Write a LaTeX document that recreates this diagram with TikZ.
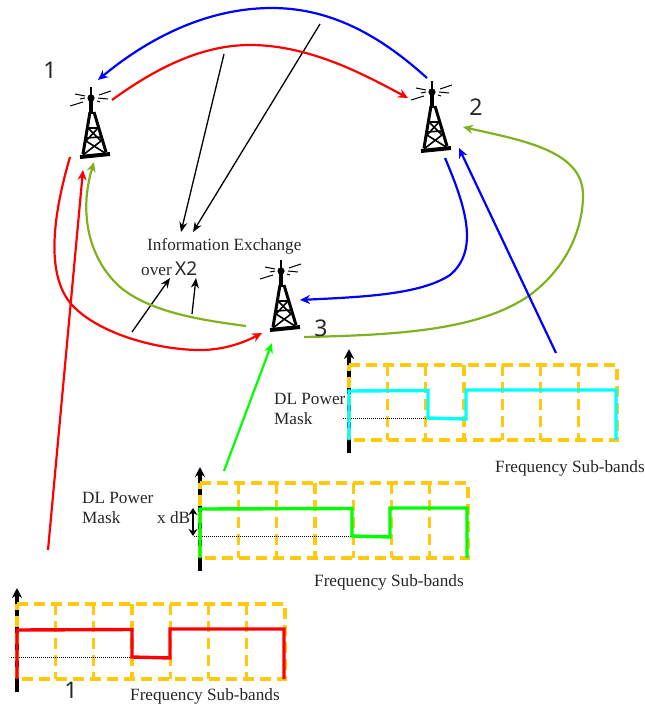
\documentclass[tikz,border=0pt]{standalone}
\usepackage{fontspec}
\setmainfont{Liberation Serif}
\newfontfamily\numfont{Noto Sans}
\usetikzlibrary{arrows.meta}
\definecolor{cred}{HTML}{FF0000}
\definecolor{cblue}{HTML}{0000FF}
\definecolor{colive}{HTML}{7FB21E}
\definecolor{clime}{HTML}{00FF00}
\definecolor{ccyan}{HTML}{00FFFF}
\definecolor{cgold}{HTML}{FFC90E}
\tikzset{
  curvearrow/.style={line width=2.2pt,-{Stealth[length=10pt,width=9pt]}},
  blackarrow/.style={line width=1.3pt,black,-{Stealth[length=10pt,width=8pt]}},
  lbl/.style={inner sep=0pt,anchor=base west,font=\fontsize{17.2}{20}\selectfont,text=black!85},
  numlbl/.style={inner sep=0pt,anchor=base,font=\numfont\fontsize{23}{26}\selectfont,text=black!85},
  goldbox/.style={line width=3.2pt,cgold,dash pattern=on 11pt off 6pt},
  maskline/.style={line width=3.4pt,line join=miter},
  pics/tower/.style={code={
    \draw[line width=1.1pt] (0,-11)--(0,0);
    \fill (0,0) circle (3.6);
    \draw[line width=3.6pt] (0,2)--(0,16);
    \draw[line width=3pt] (-1,14)--(-8,56) (3,14)--(15,54);
    \draw[line width=4pt] (-11,59)--(19,56);
    \draw[line width=1.6pt] (-3,30)--(7,30) (-5,40)--(10,39) (-3,30)--(10,43) (7,30)--(-5,43) (-5,43)--(14,55) (10,43)--(-8,57);
    \draw[line width=1pt] (-16,-4)--(-6,-2) (-21,8)--(-8,4) (-11,1)--(-6,0) (8,-3)--(20,-7) (7,0)--(17,1) (6,3)--(9,4);
  }}
}
\newcommand{\maskpanel}[5]{%
  \begin{scope}[shift={(#1,#2)}]
    \draw[line width=3.6pt,black,-{Stealth[length=10pt,width=10pt]}] (17,692)--(17,588);
    \draw[goldbox] (17,604)--(285,604)--(285,679)--(17,679)--cycle;
    \foreach \k in {1,...,6}{\draw[goldbox] ({17+38.3*\k},604)--({17+38.3*\k},679);}
    \draw[line width=.8pt,black,dash pattern=on 1.2pt off .8pt] (11,657)--(#4,657);
    \draw[maskline,#3] (17,679)--(17,630)--(#4,629.5)--(#4,657)--({#4+38},658)--({#4+38},629)--(284,629)--(284,679);
  \end{scope}}
\begin{document}
\begin{tikzpicture}[x=1pt,y=-1pt]
\useasboundingbox (0,0) rectangle (645,705);
% towers
\pic at (91,98) {tower};
\pic at (432,92) {tower};
\pic at (281,271) {tower};
% connector ends
\coordinate (t1blueIn) at (98,80);
\coordinate (t2blueOut) at (427,78);
\coordinate (topBlue) at (272,8);
\coordinate (t1redOut) at (112,100);
\coordinate (topRed) at (250,45);
\coordinate (t2redIn) at (408,98);
\coordinate (t1redL) at (70,157);
\coordinate (lowRed) at (200,350);
\coordinate (t3redIn) at (262,333);
\coordinate (t3greenL) at (246,326);
\coordinate (t1greenIn) at (94,162);
\coordinate (t3greenR) at (304,337);
\coordinate (farGreen) at (583,195);
\coordinate (t2greenIn) at (463,127);
\coordinate (t2blueDown) at (445,158);
\coordinate (t3blueIn) at (300,300);
\coordinate (p3top) at (556,353);
\coordinate (t2blueIn) at (459,148);
\coordinate (p1top) at (48,550);
\coordinate (t1redIn) at (83,170);
\coordinate (p2top) at (224,471);
\coordinate (t3limeIn) at (272,343);
% texts
\node[lbl] (info) at (147,250) {Information Exchange};
\node[lbl] (over) at (141,275) {over};
\node[lbl,font=\numfont\fontsize{19}{22}\selectfont] (xtwo) at (175,275) {X2};
\coordinate (infoA) at (181,232);
\coordinate (infoB) at (193,232);
\coordinate (overA) at (170,278);
\coordinate (overB) at (196,278);
\coordinate (ex1) at (224,54);
\coordinate (ex2) at (320,24);
\coordinate (ex3) at (132,332);
\coordinate (ex4) at (192,314);
\draw[blackarrow] (ex1)--(infoA);
\draw[blackarrow] (ex2)--(infoB);
\draw[blackarrow] (ex3)--(overA);
\draw[blackarrow] (ex4)--(overB);
% curves
\draw[curvearrow,cblue] (t2blueOut) .. controls (385,40) and (335,8) .. (topBlue) .. controls (200,8) and (140,45) .. (t1blueIn);
\draw[curvearrow,cred] (t1redOut) .. controls (160,65) and (205,45) .. (topRed) .. controls (310,45) and (365,75) .. (t2redIn);
\draw[curvearrow,cred] (t1redL) .. controls (53,215) and (45,275) .. (72,305) .. controls (100,335) and (160,350) .. (lowRed) .. controls (225,350) and (245,342) .. (t3redIn);
\draw[curvearrow,colive] (t3greenL) .. controls (200,320) and (150,312) .. (120,287) .. controls (90,260) and (78,215) .. (t1greenIn);
\draw[curvearrow,colive] (t3greenR) .. controls (400,335) and (480,330) .. (530,295) .. controls (570,265) and (583,225) .. (farGreen) .. controls (583,150) and (520,140) .. (t2greenIn);
\draw[curvearrow,cblue] (t2blueDown) .. controls (465,205) and (480,250) .. (450,275) .. controls (420,295) and (360,297) .. (t3blueIn);
\draw[curvearrow,cblue] (p3top)--(t2blueIn);
\draw[curvearrow,cred] (p1top)--(t1redIn);
\draw[curvearrow,clime] (p2top)--(t3limeIn);
% panels
\maskpanel{0}{0}{cred}{132}{a}
\maskpanel{183}{-121}{clime}{169}{b}
\maskpanel{332}{-239}{ccyan}{96}{c}
\coordinate (dbtop) at (193,508);
\coordinate (dbbot) at (193,536);
\draw[line width=2.6pt,black,{Stealth[length=7pt,width=9pt]}-{Stealth[length=7pt,width=9pt]}] (dbtop)--(dbbot);
% labels
\node[lbl] (m1) at (82,503) {DL Power};
\node[lbl] (m2) at (82,523) {Mask};
\node[lbl] (xdb) at (157,523) {x dB};
\node[lbl] (m3) at (274,404) {DL Power};
\node[lbl] (m4) at (274,424) {Mask};
\node[lbl] (f1) at (130,700) {Frequency Sub-bands};
\node[lbl] (f2) at (314,586) {Frequency Sub-bands};
\node[lbl] (f3) at (495,472) {Frequency Sub-bands};
\node[numlbl] (n1) at (50,78) {1};
\node[numlbl] (n2) at (476,115) {2};
\node[numlbl] (n3) at (321,336) {3};
\node[numlbl] (n4) at (71,698) {1};
\end{tikzpicture}
\end{document}
